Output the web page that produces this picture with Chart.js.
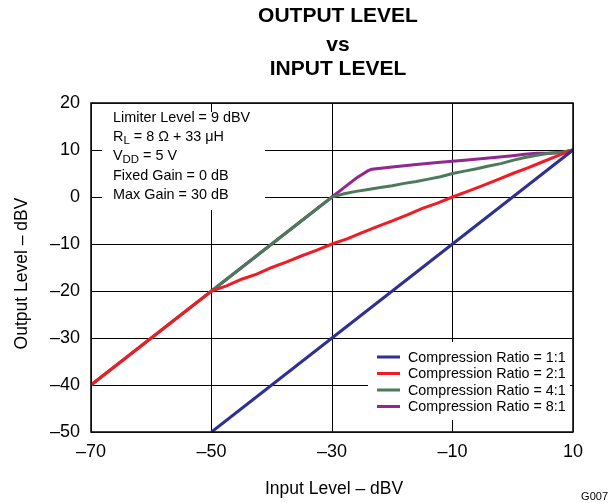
<!DOCTYPE html>
<html>
<head>
<meta charset="utf-8">
<script src="https://cdn.jsdelivr.net/npm/chart.js@4.4.1/dist/chart.umd.min.js"></script>
<style>
  html, body { margin: 0; padding: 0; background: #fff; }
  #wrap { width: 609px; height: 503px; }
</style>
</head>
<body>
<div id="wrap"><canvas id="chart" width="609" height="503"></canvas></div>
<script>
// axis ticks
const xTicks = [-70, -50, -30, -10, 10];
const yTicks = [-50, -40, -30, -20, -10, 0, 10, 20];

// Compression Ratio = 1:1
const in11 = [-50, -30, -10, 10];
const out11 = [-50, -30, -10, 10];

// Compression Ratio = 2:1
const in21 = [-70, -65, -60, -55, -50, -47.5, -45, -42.5, -40, -37.5, -35, -32.5, -30, -27.5, -25, -22.5, -20, -17.5, -15, -12.5, -10, -7.5, -5, -2.5, 0, 2.5, 5, 7.5, 10];
const out21 = [-40, -35, -30, -25, -20, -18.9, -17.5, -16.4, -15.0, -13.8, -12.5, -11.3, -10.0, -8.9, -7.6, -6.3, -5.1, -3.8, -2.4, -1.3, 0.0, 1.2, 2.4, 3.7, 5.0, 6.2, 7.5, 8.8, 10];

// Compression Ratio = 4:1
const in41 = [-70, -60, -50, -45, -40, -35, -30, -28, -26, -24, -22, -20, -18, -16, -14, -12, -10, -8, -6, -4, -2, 0, 2, 4, 6, 8, 10];
const out41 = [-40, -30, -20, -15, -10, -5, 0, 0.7, 1.2, 1.6, 2.0, 2.4, 2.9, 3.3, 3.8, 4.3, 5.0, 5.5, 6.0, 6.6, 7.1, 7.8, 8.4, 8.9, 9.3, 9.5, 10];

// Compression Ratio = 8:1
const in81 = [-50, -40, -30, -28, -26, -24, -23.4, -20, -16, -12, -8, -4, 0, 2, 4, 6, 8, 10];
const out81 = [-20, -10, 0, 2, 4, 5.6, 5.9, 6.4, 6.9, 7.4, 7.8, 8.3, 8.8, 9.1, 9.3, 9.3, 9.4, 10];

const FONT = '"Liberation Sans", Arial, sans-serif';

function pts(xs, ys) {
    return xs.map((x, i) => ({ x: x, y: ys[i] }));
}

function minus(v) {
    return String(v).replace('-', '\u2013');
}

// draws text with subscript parts, e.g. [['R'], ['L', true], [' = 8']]
function drawParts(ctx, x, y, parts, size) {
    parts.forEach(p => {
        const sub = p[1] === true;
        ctx.font = (sub ? size - 3 : size) + 'px ' + FONT;
        ctx.fillText(p[0], x, sub ? y + 4 : y);
        x += ctx.measureText(p[0]).width;
    });
}

const decorPlugin = {
    id: 'decor',
    beforeDatasetsDraw(chart) {
        const ctx = chart.ctx;
        const a = chart.chartArea;
        // white boxes behind the notes and the legend
        ctx.save();
        ctx.fillStyle = '#fff';
        ctx.fillRect(a.left + 11, a.top + 9, 163, 98);
        ctx.fillRect(a.left + 277, a.bottom - 90, 202, 78);
        ctx.restore();
    },
    afterDraw(chart) {
        const ctx = chart.ctx;
        const a = chart.chartArea;
        const cx = (a.left + a.right) / 2;
        ctx.save();

        // frame
        ctx.strokeStyle = '#111';
        ctx.lineWidth = 1.6;
        ctx.strokeRect(a.left, a.top, a.right - a.left, a.bottom - a.top);

        ctx.fillStyle = '#000';
        ctx.textBaseline = 'middle';

        // title
        ctx.textAlign = 'center';
        ctx.font = 'bold 21px ' + FONT;
        ctx.fillText('OUTPUT LEVEL', cx + 6, 16);
        ctx.fillText('vs', cx + 6, 45);
        ctx.fillText('INPUT LEVEL', cx + 6, 69);

        // axis titles
        ctx.font = '17.5px ' + FONT;
        ctx.fillText('Input Level \u2013 dBV', cx + 2, 489);
        ctx.save();
        ctx.translate(22, (a.top + a.bottom) / 2 + 6);
        ctx.rotate(-Math.PI / 2);
        ctx.fillText('Output Level \u2013 dBV', 0, 0);
        ctx.restore();

        ctx.font = '11px ' + FONT;
        ctx.textAlign = 'right';
        ctx.fillText('G007', 608, 497);

        // notes
        ctx.textAlign = 'left';
        const nx = a.left + 22;
        drawParts(ctx, nx, 118, [['Limiter Level = 9 dBV']], 14.4);
        drawParts(ctx, nx, 137, [['R'], ['L', true], [' = 8 \u03A9 + 33 \u03BCH']], 14.4);
        drawParts(ctx, nx, 156, [['V'], ['DD', true], [' = 5 V']], 14.4);
        drawParts(ctx, nx, 176, [['Fixed Gain = 0 dB']], 14.4);
        drawParts(ctx, nx, 195, [['Max Gain = 30 dB']], 14.4);

        // legend
        ctx.font = '14.3px ' + FONT;
        chart.data.datasets.forEach((ds, i) => {
            const y = 357 + i * 16.5;
            ctx.strokeStyle = ds.borderColor;
            ctx.lineWidth = 3;
            ctx.beginPath();
            ctx.moveTo(377, y);
            ctx.lineTo(400, y);
            ctx.stroke();
            ctx.fillStyle = '#000';
            ctx.fillText(ds.label, 408, y + 1);
        });

        ctx.restore();
    }
};

new Chart(document.getElementById('chart'), {
    type: 'scatter',
    data: {
        datasets: [
            { label: 'Compression Ratio = 1:1', data: pts(in11, out11), borderColor: '#2E3192' },
            { label: 'Compression Ratio = 2:1', data: pts(in21, out21), borderColor: '#EE1C25' },
            { label: 'Compression Ratio = 4:1', data: pts(in41, out41), borderColor: '#4B7B5C' },
            { label: 'Compression Ratio = 8:1', data: pts(in81, out81), borderColor: '#92278F' }
        ].map(ds => Object.assign(ds, {
            showLine: true,
            borderWidth: 3,
            pointRadius: 0,
            pointHoverRadius: 0,
            tension: 0,
            fill: false
        }))
    },
    options: {
        responsive: false,
        animation: false,
        devicePixelRatio: 1,
        layout: { padding: { top: 103, right: 36, left: 0, bottom: 0 } },
        plugins: {
            legend: { display: false },
            title: { display: false },
            tooltip: { enabled: false }
        },
        scales: {
            x: {
                type: 'linear',
                min: -70,
                max: 10,
                afterBuildTicks: s => { s.ticks = xTicks.map(v => ({ value: v })); },
                afterFit: s => { s.height = 71; },
                grid: { color: '#000', lineWidth: 1, drawTicks: false },
                border: { display: false },
                ticks: {
                    padding: 9,
                    color: '#000',
                    font: { family: FONT, size: 18 },
                    callback: v => minus(v)
                }
            },
            y: {
                type: 'linear',
                min: -50,
                max: 20,
                afterBuildTicks: s => { s.ticks = yTicks.map(v => ({ value: v })); },
                afterFit: s => { s.width = 91; },
                grid: { color: '#000', lineWidth: 1, drawTicks: false },
                border: { display: false },
                ticks: {
                    padding: 11,
                    color: '#000',
                    font: { family: FONT, size: 18 },
                    callback: v => minus(v)
                }
            }
        }
    },
    plugins: [decorPlugin]
});
</script>
</body>
</html>
